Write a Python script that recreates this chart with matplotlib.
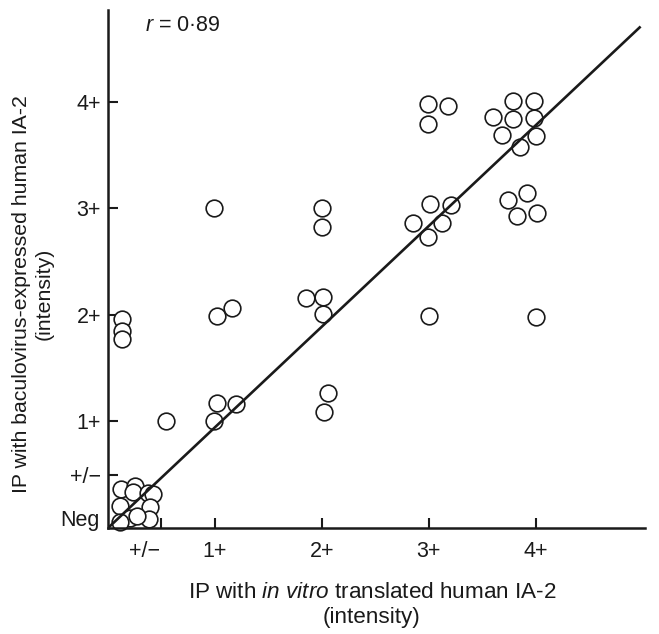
import matplotlib
matplotlib.use("Agg")
import matplotlib.pyplot as plt
from matplotlib.transforms import ScaledTranslation

plt.rcParams['font.family'] = ['Liberation Sans', 'DejaVu Sans']
plt.rcParams['mathtext.fontset'] = 'custom'
plt.rcParams['mathtext.rm'] = 'Liberation Sans'
plt.rcParams['mathtext.it'] = 'Liberation Sans:italic'

# Data: x = in vitro translated IA-2 intensity, y = baculovirus-expressed IA-2 intensity
# scale: Neg = 0, +/- = 0.5, 1+ = 1, ... 4+ = 4
x_vals = [
    0.12, 0.25, 0.23, 0.37, 0.42, 0.11, 0.39, 0.21, 0.38, 0.11, 0.27,
    0.13, 0.13, 0.13, 0.54,
    0.99, 1.02, 1.16, 1.02, 0.99, 1.20,
    2.00, 2.00, 1.85, 2.01, 2.01, 2.06, 2.02,
    2.99, 3.18, 2.99, 3.01, 3.21, 2.85, 3.12, 2.99, 3.00,
    3.79, 3.98, 3.60, 3.79, 3.98, 3.68, 4.00, 3.85, 3.74, 3.92, 3.82, 4.01, 4.00,
]
y_vals = [
    0.37, 0.39, 0.34, 0.33, 0.32, 0.21, 0.20, 0.09, 0.08, 0.06, 0.11,
    1.96, 1.85, 1.77, 1.00,
    3.00, 1.99, 2.06, 1.17, 1.00, 1.16,
    3.00, 2.82, 2.16, 2.17, 2.01, 1.27, 1.09,
    3.98, 3.96, 3.79, 3.04, 3.03, 2.86, 2.86, 2.73, 1.99,
    4.01, 4.01, 3.86, 3.84, 3.85, 3.69, 3.68, 3.57, 3.08, 3.14, 2.93, 2.96, 1.98,
]
fit_slope = 0.945
fit_x = [0.0, 4.97]
r_text = "$r$ = 0·89"

x_ticks = [0.5, 1, 2, 3, 4]
x_labels = ["+/−", "1+", "2+", "3+", "4+"]
y_ticks = [0.5, 1, 2, 3, 4]
y_labels = ["+/−", "1+", "2+", "3+", "4+"]

fig = plt.figure(figsize=(6.59, 6.34), dpi=100)
ax = fig.add_axes([108/659, 1-528/634, (645-108)/659, (528-10)/634])
ax.set_xlim(0, 5.02)
ax.set_ylim(0, 4.86)

ax.plot(fit_x, [fit_slope*v for v in fit_x], color='#1a1a1a', lw=1.9, zorder=3)
ax.plot(x_vals, y_vals, 'o', ms=12, mfc='white', mec='#1a1a1a', mew=1.2,
        linestyle='none', zorder=2, clip_on=False)

for s in ['top', 'right']:
    ax.spines[s].set_visible(False)
for s in ['left', 'bottom']:
    ax.spines[s].set_linewidth(1.8)
    ax.spines[s].set_color('#1a1a1a')

tfs = 15.5
ax.set_xticks(x_ticks)
ax.set_xticklabels(x_labels, fontsize=tfs)
ax.set_yticks(y_ticks)
ax.set_yticklabels(y_labels, fontsize=tfs)
ax.tick_params(axis='both', direction='in', length=7, width=1.5, color='#1a1a1a',
               labelcolor='#1a1a1a')
ax.tick_params(axis='x', pad=9.5)
ax.tick_params(axis='y', pad=5)

# shift the x "+/-" label to the left like the reference
lbl = ax.get_xticklabels()[0]
lbl.set_transform(lbl.get_transform() + ScaledTranslation(-0.17, 0, fig.dpi_scale_trans))

# Neg label (no tick)
ax.text(-0.075, 0.07, "Neg", fontsize=tfs, ha='right', va='center', color='#1a1a1a',
        transform=ax.transData, clip_on=False)

ax.text(0.35, 4.71, r_text, fontsize=tfs, ha='left', va='center', color='#1a1a1a')

fig.text(372/659, 1-605/634, "IP with $\\mathit{in\\ vitro}$ translated human IA-2\n(intensity)",
         ha='center', va='center', fontsize=16.2, color='#1a1a1a', linespacing=1.25)
fig.text(33/659, 1-294/634, "IP with baculovirus-expressed human IA-2\n(intensity)",
         ha='center', va='center', rotation=90, fontsize=15.3, color='#1a1a1a', linespacing=1.2)

fig.savefig("out.png", dpi=100)
